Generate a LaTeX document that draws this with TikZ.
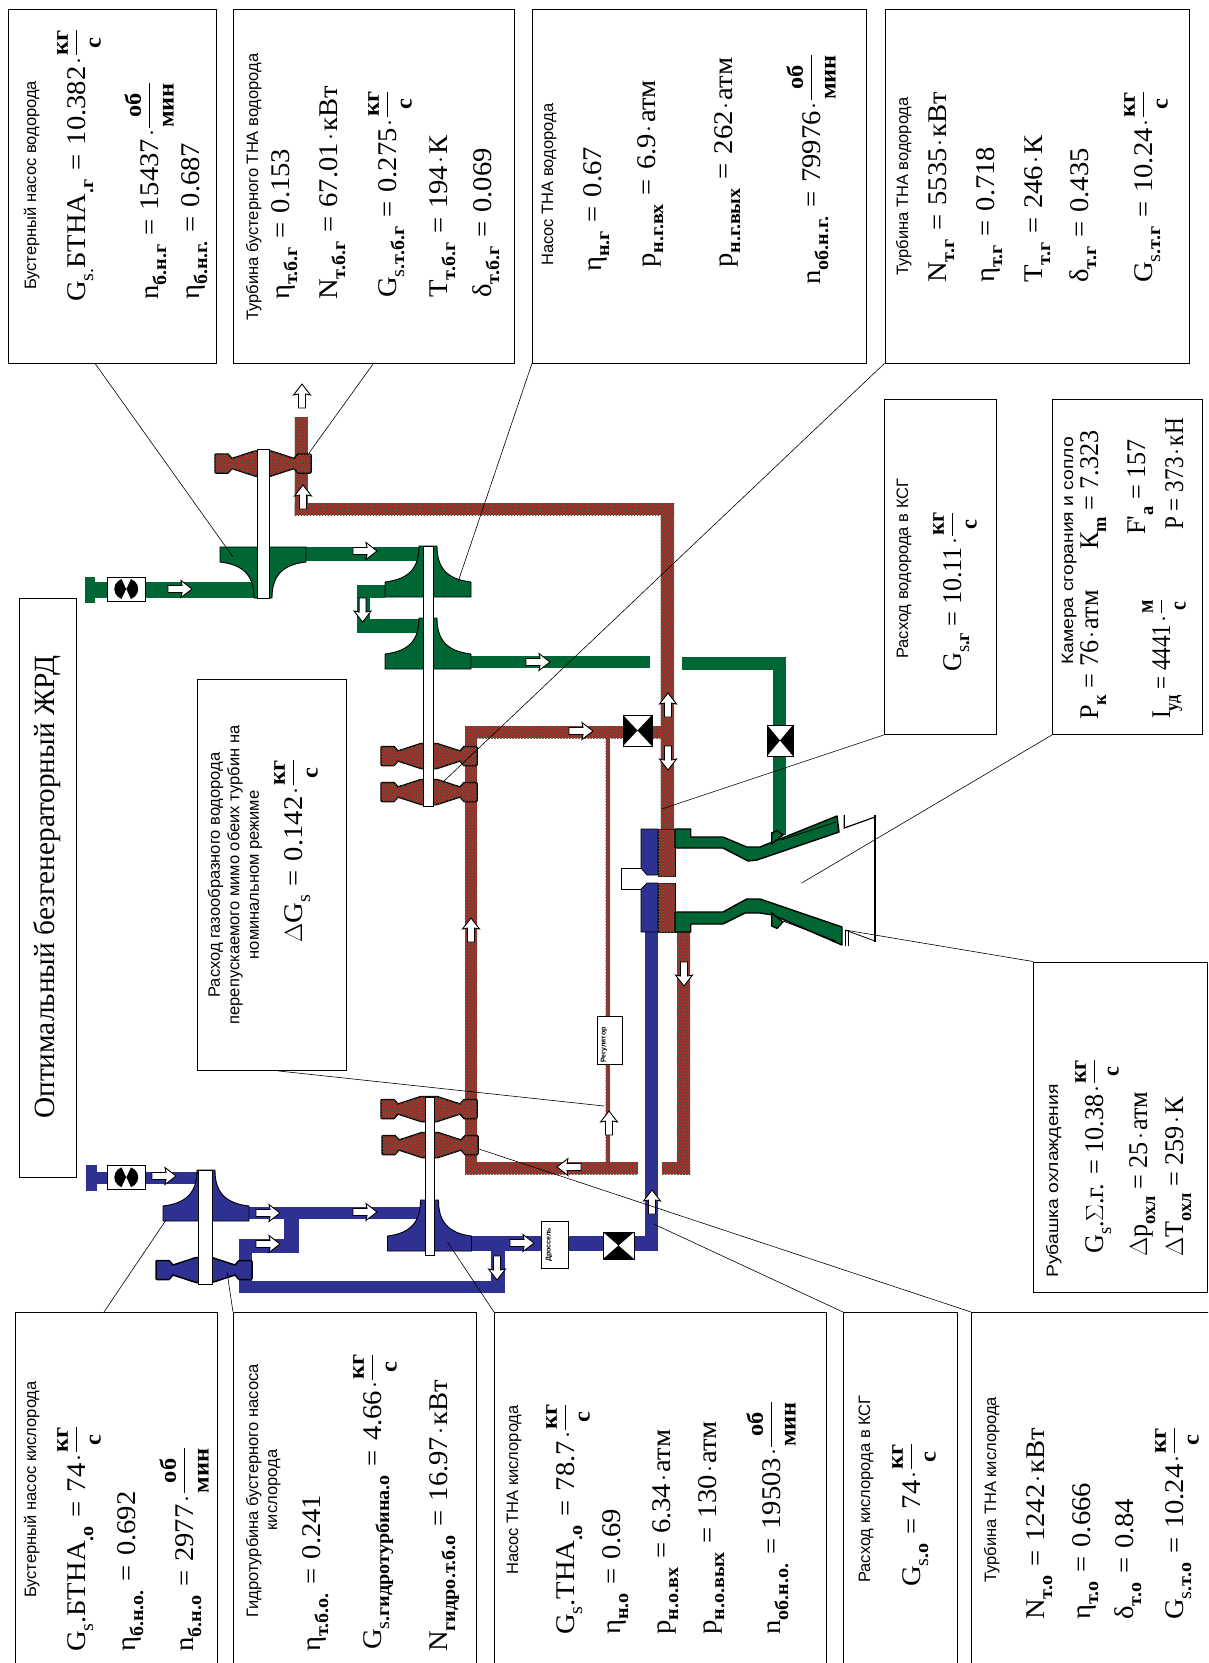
\documentclass[tikz,border=0pt]{standalone}
\usepackage{fontspec}
\setmainfont[FakeStretch=1.06,WordSpace=1.25]{Liberation Serif}
\newfontfamily\titlefont{Liberation Serif}
\newfontfamily\labfont{Liberation Sans}
\newfontfamily\labwide[FakeStretch=1.17]{Liberation Sans}
\newfontfamily\condA[FakeStretch=.97]{Liberation Serif}
\newfontfamily\condB[FakeStretch=.86]{Liberation Serif}
\usetikzlibrary{patterns}
\definecolor{oxblue}{HTML}{2E3192}
\definecolor{hgreen}{HTML}{006633}
\definecolor{hotred}{HTML}{D8262C}
\definecolor{hotdark}{HTML}{4A4A34}
\newcommand\tinyfs{\fontsize{7}{7}\selectfont}
\newcommand\lab[4]{\node[lablbl] (#1) at (#2,#3) {#4};}
\newcommand\mth[4]{\node[mthlbl] (#1) at (#2,#3) {#4};}
\newcommand\sbb[1]{\raisebox{-.3em}{\fontsize{19}{19}\selectfont\bfseries #1}}
\newcommand\sbn[1]{\raisebox{-.3em}{\fontsize{19}{19}\selectfont #1}}
\newcommand\cdt{\kern.08em$\cdot$\kern.08em}
\newcommand\frc[2]{\begin{tabular}[c]{@{}c@{}}\rule[-.2em]{0pt}{.8em}\fontsize{23}{23}\selectfont\bfseries #1\\\hline\rule{0pt}{.9em}\fontsize{23}{23}\selectfont\bfseries #2\end{tabular}}
\newcommand\flowarrow[3]{\draw[flowarr,shift={(#1,#2)},rotate=#3] (-12,-3.5)--(2,-3.5)--(1,-8.5)--(12,0)--(1,8.5)--(2,3.5)--(-12,3.5)--cycle;}
\newcommand\turbine[4]{\draw[turb,#4,shift={(#1,#2)}] (-48*#3,-8.5)--(-47*#3,-9.5)--(-35*#3,-9.5)--(-31*#3,-5)--(-8*#3,-12.5)--(8*#3,-12.5)--(31*#3,-5)--(35*#3,-9.5)--(47*#3,-9.5)--(48*#3,-8.5)--(48*#3,8.5)--(47*#3,9.5)--(35*#3,9.5)--(31*#3,5)--(8*#3,12.5)--(-8*#3,12.5)--(-31*#3,5)--(-35*#3,9.5)--(-47*#3,9.5)--(-48*#3,8.5)--cycle;}
\newcommand\impeller[5]{\draw[#5,line width=.9pt,shift={(#1,#2)},yscale=#3] (-9,0) .. controls (-9,20) and (-17,33) .. (-#4,36) -- (-#4,51) -- (#4,51) -- (#4,36) .. controls (17,33) and (9,20) .. (9,0) -- cycle;}
\newcommand\shaft[4]{\draw[shaftst] (#1,#3) rectangle (#2,#4);}
\newcommand\bigvalve[4]{\draw[black,fill=white,line width=.9pt] (#1,#2) rectangle (#3,#4); \fill[black] (#1,#2)--(#3,#4)--(#3,#2)--(#1,#4)--cycle;}
\newcommand\bigvalveb[4]{\draw[black,fill=white,line width=.9pt] (#1,#2) rectangle (#3,#4); \fill[black] (#1,#2)--(#3,#4)--(#1,#4)--(#3,#2)--cycle;}
\newcommand\inletvalve[4]{\draw[black,fill=white,line width=.9pt] (#1,#2) rectangle (#3,#4); \fill[black] ({(#1+#3)/2},{(#2+#4)/2}) ellipse[x radius=12,y radius=10.8]; \fill[white] ({(#1+#3)/2-5.5},#2) -- ({(#1+#3)/2},{(#2+#4)/2}) -- ({(#1+#3)/2+5.5},#2) -- cycle; \fill[white] ({(#1+#3)/2-5.5},#4) -- ({(#1+#3)/2},{(#2+#4)/2}) -- ({(#1+#3)/2+5.5},#4) -- cycle;\draw[black,line width=.9pt] (#1,#2) rectangle (#3,#4);}
\tikzset{
 x=1pt,y=-1pt,
 lablbl/.style={rotate=90,anchor=base west,inner sep=0pt,font=\labfont\fontsize{16.5}{16.5}\selectfont},
 mthlbl/.style={rotate=90,anchor=base west,inner sep=0pt,font=\fontsize{27}{27}\selectfont},
 infobox/.style={draw=black,line width=.9pt,fill=white,inner sep=0pt,anchor=north west},
 leader/.style={draw=black,line width=.6pt},
 redp/.style={fill=hotred,postaction={pattern=crosshatch,pattern color=hotdark}},
 bluep/.style={fill=oxblue},
 greenp/.style={fill=hgreen},
 turb/.style={draw=black,line width=1.5pt,line join=round},
 shaftst/.style={draw=black,line width=.8pt,fill=white},
 flowarr/.style={draw=black,line width=.9pt,fill=white,line join=miter},
 tagbox/.style={draw=black,line width=.7pt,fill=white,inner sep=0pt},
}
\begin{document}
\begin{tikzpicture}
\useasboundingbox (0,0) rectangle (1208,1663);
\clip (0,0) rectangle (1208,1663);
\fill[white] (0,0) rectangle (1208,1663);
% ---------- blue pipes
\fill[bluep] (86,1165) rectangle (96.5,1191);
\fill[bluep] (96,1172) rectangle (200,1184);
\fill[bluep] (249,1207) rectangle (425,1219);
\fill[bluep] (284,1207) rectangle (299,1253);
\fill[bluep] (239,1239) rectangle (299,1253);
\fill[bluep] (239,1239) rectangle (252,1293);
\fill[bluep] (239,1281) rectangle (505,1293);
\fill[bluep] (491,1240) rectangle (505,1293);
\fill[bluep] (472,1236) rectangle (658,1251);
\fill[bluep] (645,930) rectangle (658,1251);
% ---------- green pipes
\fill[greenp] (85,577) rectangle (95,603);
\fill[greenp] (95,582) rectangle (254,598);
\fill[greenp] (305,547) rectangle (419,561);
\fill[greenp] (356.5,585) rectangle (385,598);
\fill[greenp] (356.5,585) rectangle (370,633);
\fill[greenp] (356.5,619) rectangle (419,633);
\fill[greenp] (470,656) rectangle (650,668);
\fill[greenp] (682,657) rectangle (786,670);
\fill[greenp] (773,657) rectangle (786,835);
% ---------- red pipes
\fill[redp] (294.5,417) rectangle (307.5,515);
\fill[redp] (294.5,503) rectangle (674,515);
\fill[redp] (660.5,503) rectangle (674,830);
\fill[redp] (465,726) rectangle (660.5,738);
\fill[redp] (465,726) rectangle (477,1174);
\fill[redp] (465,1162) rectangle (638,1174);
\fill[redp] (662,1162) rectangle (690,1174);
\fill[redp] (677,930) rectangle (690,1174);
\fill[redp] (605.5,737) rectangle (610,1162);
% ---------- turbines
\turbine{263}{463.5}{1}{redp}
\turbine{429}{756}{1}{redp}
\turbine{429}{792}{1}{redp}
\turbine{429}{1109}{1}{redp}
\turbine{430}{1145}{1}{redp}
\turbine{204}{1270}{1}{bluep}
% ---------- impellers
\impeller{263}{598}{-1}{43}{greenp,draw=black}
\impeller{428}{546}{1}{43}{greenp,draw=black}
\impeller{428}{618}{1}{43}{greenp,draw=black}
\impeller{206}{1170}{1}{43}{bluep,draw=black}
\impeller{429.5}{1200}{1}{42}{bluep,draw=black}
% ---------- shafts
\shaft{257}{269}{449}{598}
\shaft{423.5}{433}{546}{806}
\shaft{198}{212}{1170}{1284}
\shaft{425}{434}{1097}{1255}
% ---------- chamber
\fill[bluep,draw=black,line width=.7pt] (641,829)--(658,829)--(658,875)--(647,875)--(641,868)--cycle;
\fill[bluep,draw=black,line width=.7pt] (647,883)--(658,883)--(658,932)--(641,932)--(641,889)--cycle;
\path[redp,draw=black,line width=.7pt] (658,829) rectangle (675,876);
\path[redp,draw=black,line width=.7pt] (658,883) rectangle (675,932);
\draw[black,line width=.8pt] (641,868)--(621,868)--(621,889)--(641,889);
% ---------- jacket
\draw[greenp,draw=black,line width=1.4pt,line join=round] (675,829)--(690.7,829)--(690.7,837)--(723,837)--(746.7,847)--(760,847)--(837,816)--(839,832)--(757,860)--(748,861)--(723,848)--(675,848)--cycle;
\draw[greenp,draw=black,line width=1.2pt] (771.7,844)--(771.7,833)--(777,830.5)--(783,835)--cycle;
\draw[black,line width=.8pt] (781,840)--(836,822);
\draw[greenp,draw=black,line width=1.4pt,line join=round] (675,912)--(723,912)--(746.7,899)--(760,899)--(842,927)--(842,945)--(773,915)--(760,913)--(745,913)--(723,924)--(690.7,924)--(690.7,932)--(675,932)--cycle;
\draw[greenp,draw=black,line width=1.2pt] (771.7,913)--(771.7,926)--(777,928.5)--(783,922)--cycle;
\draw[black,line width=.8pt] (783,921)--(836,941);
% nozzle extension
\draw[black,line width=1.2pt] (844.3,815)--(844.3,828)--(875,817);
\draw[black,line width=1.8pt] (875,815)--(875,941.5);
\draw[black,line width=.8pt] (845,930)--(875,941);
\draw[black,line width=.8pt] (845,930)--(845,946);
\draw[black,line width=.8pt] (848,930)--(848,946);
% ---------- valves
\inletvalve{107.5}{1165.5}{145}{1189}
\inletvalve{107.5}{577}{145}{601}
\bigvalveb{603}{1232}{634}{1259}
\bigvalve{623}{715}{652}{746}
\bigvalve{767}{725}{793}{756}
% ---------- small boxes
\node[tagbox,minimum width=27pt,minimum height=47pt,anchor=north west] (drossel) at (541,1221) {};
\node[rotate=90,inner sep=0pt,font=\labfont\bfseries\tinyfs] (drosseltxt) at (549,1245) {Дроссель};
\node[tagbox,minimum width=25.5pt,minimum height=48pt,anchor=north west] (regul) at (596.5,1016) {};
\node[rotate=90,inner sep=0pt,font=\labfont\bfseries\tinyfs] (regultxt) at (604,1045) {Регулятор};
% ---------- arrows
\flowarrow{164}{1176}{0}
\flowarrow{268}{1213}{0}
\flowarrow{268}{1244}{0}
\flowarrow{365}{1212}{0}
\flowarrow{522}{1243}{0}
\flowarrow{497}{1268}{-90}
\flowarrow{652}{1202}{90}
\flowarrow{569}{1167}{180}
\flowarrow{609}{1123}{90}
\flowarrow{471}{930}{90}
\flowarrow{684}{974}{-90}
\flowarrow{180}{589}{0}
\flowarrow{365}{551}{0}
\flowarrow{362.6}{610}{-90}
\flowarrow{538}{662}{0}
\flowarrow{302}{396}{90}
\flowarrow{303}{497}{90}
\flowarrow{581}{731}{0}
\flowarrow{668}{705}{90}
\flowarrow{668}{758}{-90}
% ---------- boxes
\node[infobox,minimum width=208pt,minimum height=353.5pt] (boxA) at (8,9) {};
\node[infobox,minimum width=281pt,minimum height=353.5pt] (boxB) at (233,9) {};
\node[infobox,minimum width=334pt,minimum height=353.5pt] (boxC) at (532,9) {};
\node[infobox,minimum width=304.5pt,minimum height=353.5pt] (boxD) at (884.5,9) {};
\node[infobox,minimum width=201.5pt,minimum height=380pt] (boxE) at (15,1312) {};
\node[infobox,minimum width=243pt,minimum height=380pt] (boxF) at (233,1312) {};
\node[infobox,minimum width=332pt,minimum height=380pt] (boxG) at (494,1312) {};
\node[infobox,minimum width=114pt,minimum height=380pt] (boxH) at (843,1312) {};
\node[infobox,minimum width=260pt,minimum height=380pt] (boxI) at (971,1312) {};
\node[infobox,minimum width=112pt,minimum height=335pt] (boxJ) at (884,399) {};
\node[infobox,minimum width=150pt,minimum height=335pt] (boxK) at (1052,399) {};
\node[infobox,minimum width=174pt,minimum height=330.5pt] (boxL) at (1033,961.5) {};
\node[infobox,minimum width=57pt,minimum height=579pt] (boxM) at (19,598) {};
\node[infobox,minimum width=149pt,minimum height=391pt] (boxN) at (197,679) {};
% ---------- leaders
\coordinate (tA) at (233,557);
\coordinate (tB) at (309,453);
\coordinate (tC) at (458,582);
\coordinate (tD) at (443,782);
\coordinate (tE) at (166,1220);
\coordinate (tF) at (227,1272);
\coordinate (tG) at (447.5,1242);
\coordinate (tH) at (653.7,1224);
\coordinate (tI) at (479,1149);
\coordinate (tJ) at (661.7,809);
\coordinate (tK) at (801.7,883);
\coordinate (tL) at (845,930);
\coordinate (tN) at (604,1106);
\draw[leader] (boxA.south west) ++(87,0) -- (tA);
\draw[leader] (boxB.south west) ++(140.5,0) -- (tB);
\draw[leader] (boxC.south west) -- (tC);
\draw[leader] (boxD.south west) -- (tD);
\draw[leader] (boxE.north west) ++(89,0) -- (tE);
\draw[leader] (boxF.north west) -- (tF);
\draw[leader] (boxG.north west) -- (tG);
\draw[leader] (boxH.north west) -- (tH);
\draw[leader] (boxI.north west) -- (tI);
\draw[leader] (boxJ.south west) -- (tJ);
\draw[leader] (boxK.south west) -- (tK);
\draw[leader] (boxL.north west) -- (tL);
\draw[leader] (boxN.south west) ++(81,0) -- (tN);
% ---------- title
\node[rotate=90,inner sep=0pt,font=\titlefont\fontsize{29.3}{30}\selectfont] (title) at (47.5,887) {Оптимальный безгенераторный ЖРД};
% ---------- A
\lab{a1}{36}{290}{Бустерный насос водорода}
\mth{a2}{85}{302}{G\sbn{s.}БТНА\sbb{.г} = 10.382\cdt\frc{кг}{с}}
\mth{a3}{158}{300}{n\sbb{б.н.г} = 15437\cdt\frc{об}{мин}}
\mth{a4}{199}{300}{η\sbb{б.н.г.} = 0.687}
% ---------- B
\lab{b1}{258}{321}{Турбина бустерного ТНА водорода}
\mth{b2}{289}{300}{η\sbb{т.б.г} = 0.153}
\mth{b3}{337}{300}{N\sbb{т.б.г} = 67.01\cdt кВт}
\mth{b4}{396}{298}{G\sbn{s}\sbb{.т.б.г} = 0.275\cdt\frc{кг}{с}}
\mth{b5}{447}{298}{T\sbb{т.б.г} = 194\cdt К}
\mth{b6}{491}{298}{δ\sbb{т.б.г} = 0.069}
% ---------- C
\lab{c1}{553}{266}{Насос ТНА водорода}
\mth{c2}{601}{272}{η\sbb{н.г} = 0.67}
\mth{c3}{655}{268}{р\sbb{н.г.вх} = 6.9\cdt атм}
\mth{c4}{732}{268}{р\sbb{н.г.вых} = 262\cdt атм}
\mth{c5}{820}{285}{n\sbb{об.н.г.} = 79976\cdt\frc{об}{мин}}
% ---------- D
\lab{d1}{908}{276}{Турбина ТНА водорода}
\mth{d2}{946}{283}{N\sbb{т.г} = 5535\cdt кВт}
\mth{d3}{994}{283}{η\sbb{т.г} = 0.718}
\mth{d4}{1042}{283}{Т\sbb{т.г} = 246\cdt К}
\mth{d5}{1088}{283}{δ\sbb{т.г} = 0.435}
\mth{d6}{1152}{283}{G\sbn{s}\sbb{.т.г} = 10.24\cdt\frc{кг}{с}}
% ---------- E
\lab{e1}{36}{1598}{Бустерный насос кислорода}
\mth{e2}{85}{1652}{G\sbn{s}.БТНА\sbb{.о} = 74\cdt\frc{кг}{с}}
\mth{e3}{135}{1652}{η\sbb{б.н.о.} = 0.692}
\mth{e4}{193}{1652}{n\sbb{б.н.о} = 2977\cdt\frc{об}{мин}}
% ---------- F
\lab{f1}{258}{1618}{Гидротурбина бустерного насоса}
\node[rotate=90,anchor=base,inner sep=0pt,font=\labfont\fontsize{16.5}{16.5}\selectfont] (f1b) at (277,1490) {кислорода};
\mth{f2}{320}{1652}{η\sbb{т.б.о.} = 0.241}
\mth{f3}{381}{1650}{G\sbn{s}\sbb{.гидротурбина.о} = 4.66\cdt\frc{кг}{с}}
\mth{f4}{447}{1652}{N\sbb{гидро.т.б.о} = 16.97\cdt кВт}
% ---------- G
\lab{g1}{518}{1575}{Насос ТНА кислорода}
\mth{g2}{574}{1635}{G\sbn{s}.ТНА\sbb{.о} = 78.7\cdt\frc{кг}{с}}
\mth{g3}{620}{1635}{η\sbb{н.о} = 0.69}
\mth{g4}{670}{1635}{р\sbb{н.о.вх} = 6.34\cdt атм}
\mth{g5}{716}{1635}{р\sbb{н.о.вых} = 130\cdt атм}
\mth{g6}{780}{1635}{n\sbb{об.н.о.} = 19503\cdt\frc{об}{мин}}
% ---------- H
\lab{h1}{870}{1583}{Расход кислорода в КСГ}
\mth{h2}{920}{1587}{G\sbn{s}\sbb{.о} = 74\cdt\frc{кг}{с}}
% ---------- I
\lab{i1}{996}{1583}{Турбина ТНА кислорода}
\mth{i2}{1044}{1620}{N\sbb{т.о} = 1242\cdt кВт}
\mth{i3}{1090}{1620}{η\sbb{т.о} = 0.666}
\mth{i4}{1133}{1620}{δ\sbb{т.о} = 0.84}
\mth{i5}{1183}{1620}{G\sbn{s}\sbb{.т.о} = 10.24\cdt\frc{кг}{с}}
% ---------- J
\lab{j1}{908}{659}{Расход водорода в КСГ}
\mth{j2}{961}{672}{\condA G\sbn{s}\sbb{.г} = 10.11\cdt\frc{кг}{с}}
% ---------- K
\lab{k1}{1073}{665}{\labwide Камера сгорания и сопло}
\mth{k2}{1098}{720}{\condA Р\sbb{к} = 76\cdt атм}
\mth{k6}{1098}{550}{\condA К\sbb{m} = 7.323}
\mth{k3}{1145}{535}{\condA F'\sbb{a} = 157}
\mth{k4}{1170}{719}{\condB I\sbb{уд} = 4441\cdt\frc{м}{с}}
\mth{k5}{1183}{530}{\condB Р = 373\cdt кН}
% ---------- L
\lab{l1}{1058}{1278}{\labwide Рубашка охлаждения}
\mth{l2}{1103}{1254}{\condA G\sbn{s}.$\Sigma$.г. = 10.38\cdt\frc{кг}{с}}
\mth{l3}{1147}{1257}{\condA $\Delta$р\sbb{охл} = 25\cdt атм}
\mth{l4}{1183}{1257}{\condA $\Delta$Т\sbb{охл} = 259\cdt К}
% ---------- N
\node[rotate=90,align=center,inner sep=0pt,font=\labfont\fontsize{16.5}{19.5}\selectfont] (n1) at (235,875) {Расход газообразного водорода\\перепускаемого мимо обеих турбин на\\номинальном режиме};
\mth{n2}{302}{943}{$\Delta$G\sbn{s} = 0.142\cdt\frc{кг}{с}}
\end{tikzpicture}
\end{document}
